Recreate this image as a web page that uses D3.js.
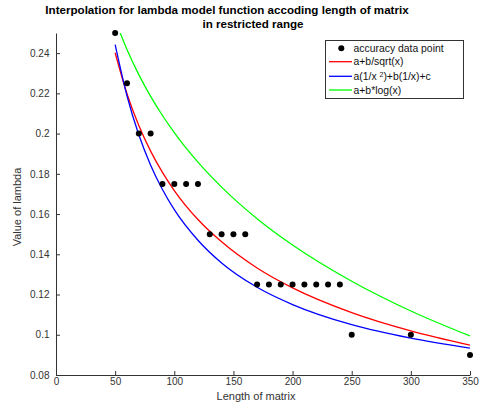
<!DOCTYPE html>
<html>

<head>
    <meta charset="utf-8">
    <title>Lambda interpolation</title>
    <style>
        body { margin: 0; background: #fff; }
        text { font-family: "Liberation Sans", Arial, sans-serif; }
    </style>
</head>

<body>
    <svg class="chart"></svg>
    <script src="https://cdn.jsdelivr.net/npm/d3@7/dist/d3.min.js"></script>
    <script>
        // accuracy data points
        const matrixLength = [50, 60, 70, 80, 90, 100, 110, 120, 130, 140, 150, 160, 170, 180, 190, 200, 210, 220, 230, 240, 250, 300, 350]
        const lambdaValue = [0.25, 0.225, 0.2, 0.2, 0.175, 0.175, 0.175, 0.175, 0.15, 0.15, 0.15, 0.15,
            0.125, 0.125, 0.125, 0.125, 0.125, 0.125, 0.125, 0.125, 0.1, 0.1, 0.09]

        // fitted curves, values
        const curveX = [50, 60, 70, 80, 90, 100, 120, 140, 170, 200, 250, 300, 350]
        const sqrtFit = [0.2402, 0.2198, 0.2040, 0.1913, 0.1807, 0.1717, 0.1573, 0.1462, 0.1332, 0.1233, 0.1110, 0.1019, 0.0948]
        const invFit = [0.2442, 0.2188, 0.1994, 0.1843, 0.1722, 0.1622, 0.1470, 0.1357, 0.1236, 0.1150, 0.1050, 0.0983, 0.0934]
        const logFit = [0.2565, 0.2418, 0.2293, 0.2185, 0.2090, 0.2005, 0.1858, 0.1734, 0.1577, 0.1446, 0.1266, 0.1118, 0.0994]

        const xTicks = [0, 50, 100, 150, 200, 250, 300, 350]
        const yTicks = [0.08, 0.1, 0.12, 0.14, 0.16, 0.18, 0.2, 0.22, 0.24]
        const legendLabels = ["accuracy data point", "a+b/sqrt(x)", "a(1/x 2)+b(1/x)+c", "a+b*log(x)"]

        var width = 480, height = 412
        const margin = { left: 56, right: 10, top: 33, down: 37 }
        const axisColor = "#333"

        var svg = d3.select(".chart")
            .attr("width", width)
            .attr("height", height)

        var xScale = d3.scaleLinear()
            .domain([0, 350])
            .range([margin.left, width - margin.right])

        var yScale = d3.scaleLinear()
            .domain([0.08, 0.25])
            .range([height - margin.down, margin.top])

        svg.append("defs").append("clipPath")
            .attr("id", "plot")
            .append("rect")
            .attr("x", xScale(0))
            .attr("y", yScale(0.25))
            .attr("width", xScale(350) - xScale(0))
            .attr("height", yScale(0.08) - yScale(0.25))

        var xAxis = svg.append("g")
            .attr("transform", `translate(0, ${yScale(0.08)})`)
            .call(d3.axisBottom(xScale).tickValues(xTicks).tickSizeInner(-4).tickSizeOuter(0).tickPadding(3)
                .tickFormat(d => String(d)))

        var yAxis = svg.append("g")
            .attr("transform", `translate(${xScale(0)}, 0)`)
            .call(d3.axisLeft(yScale).tickValues(yTicks).tickSizeInner(-4).tickSizeOuter(0).tickPadding(6.5)
                .tickFormat(d => String(+d.toFixed(2))))

        svg.selectAll(".tick text").attr("font-size", 10).attr("fill", axisColor)
        svg.selectAll(".domain, .tick line").attr("stroke", axisColor)

        // fitted curves
        var fits = [
            { values: sqrtFit, color: "#ff0000" },
            { values: invFit, color: "#0000ff" },
            { values: logFit, color: "#00ff00" }
        ]
        var line = d3.line()
            .x((d, i) => xScale(curveX[i]))
            .y(d => yScale(d))
            .curve(d3.curveMonotoneX)

        svg.append("g")
            .attr("clip-path", "url(#plot)")
            .selectAll("path")
            .data(fits)
            .enter()
            .append("path")
            .attr("d", d => line(d.values))
            .attr("fill", "none")
            .attr("stroke", d => d.color)
            .attr("stroke-width", 1.3)

        svg.append("g")
            .selectAll("circle")
            .data(matrixLength.map((x, i) => ({ x: x, y: lambdaValue[i] })))
            .enter()
            .append("circle")
            .attr("cx", d => xScale(d.x))
            .attr("cy", d => yScale(d.y))
            .attr("r", 3)
            .attr("fill", "black")

        // titles
        svg.append("text")
            .attr("x", 227).attr("y", 14)
            .attr("text-anchor", "middle")
            .attr("font-size", 11.6).attr("font-weight", "bold")
            .text("Interpolation for lambda model function accoding length of matrix")
        svg.append("text")
            .attr("x", 253).attr("y", 27.5)
            .attr("text-anchor", "middle")
            .attr("font-size", 11.6).attr("font-weight", "bold")
            .text("in restricted range")

        svg.append("text")
            .attr("x", 256).attr("y", 400)
            .attr("text-anchor", "middle")
            .attr("font-size", 11).attr("fill", axisColor)
            .text("Length of matrix")

        svg.append("text")
            .attr("transform", "translate(21, 207) rotate(-90)")
            .attr("text-anchor", "middle")
            .attr("font-size", 11).attr("fill", axisColor)
            .text("Value of lambda")

        // legend
        var legend = svg.append("g")
        legend.append("rect")
            .attr("x", 325.5).attr("y", 40.5)
            .attr("width", 138).attr("height", 58)
            .attr("fill", "white")
            .attr("stroke", axisColor)

        var rowY = [48.3, 61.7, 76.3, 90]
        legend.append("circle")
            .attr("cx", 341.3).attr("cy", rowY[0]).attr("r", 3).attr("fill", "black")
        fits.forEach((f, i) => {
            legend.append("line")
                .attr("x1", 329).attr("x2", 352)
                .attr("y1", rowY[i + 1]).attr("y2", rowY[i + 1])
                .attr("stroke", f.color).attr("stroke-width", 1.3)
        })
        legendLabels.forEach((label, i) => {
            var t = legend.append("text")
                .attr("x", 353.5).attr("y", rowY[i])
                .attr("dy", "0.35em")
                .attr("font-size", 10.4).attr("fill", "#111")
            if (i === 2) {
                var parts = label.split(" 2")
                t.append("tspan").text(parts[0] + " ")
                t.append("tspan").attr("font-size", 7).attr("dy", "-0.45em").text("2")
                t.append("tspan").attr("dy", "0.32em").text(parts[1])
            } else {
                t.text(label)
            }
        })
    </script>
</body>

</html>
